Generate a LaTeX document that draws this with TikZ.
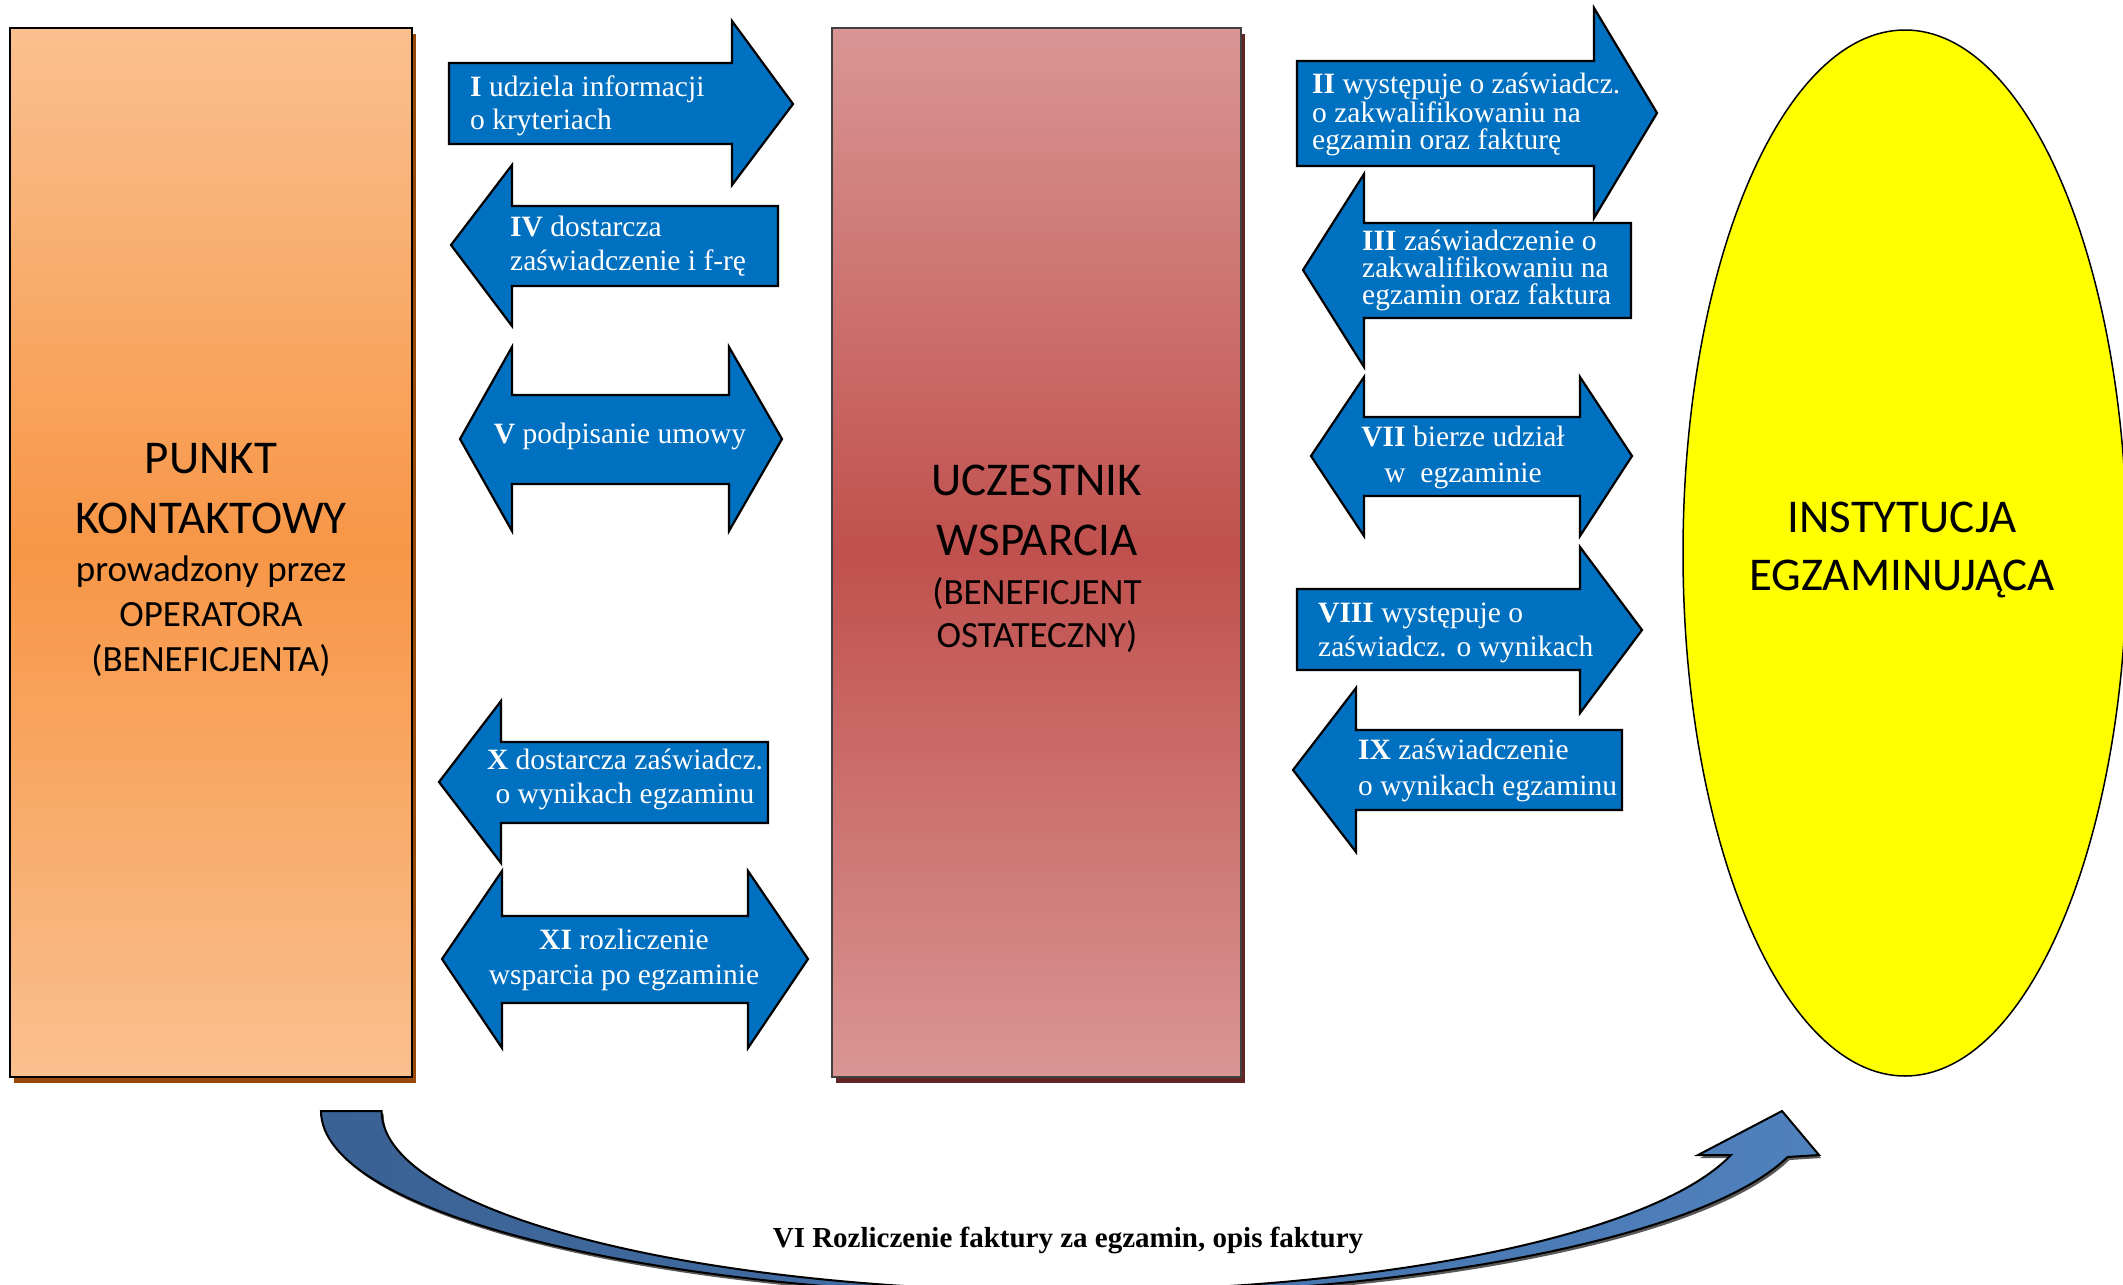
\documentclass[tikz,border=0pt]{standalone}
\usepackage{fontspec}
\setmainfont{Liberation Serif}
\newfontfamily\calib{Carlito}
\usetikzlibrary{shapes.geometric,shadows}
\definecolor{ablue}{HTML}{0070C0}
\definecolor{peachL}{HTML}{FAC08F}
\definecolor{orangeM}{HTML}{F79646}
\definecolor{shadowO}{HTML}{984807}
\definecolor{roseL}{HTML}{D99694}
\definecolor{redM}{HTML}{C0504D}
\definecolor{shadowR}{HTML}{632523}
\definecolor{curvL}{HTML}{3A6193}
\definecolor{curvR}{HTML}{4F81BD}
\definecolor{instY}{HTML}{FFFF00}
\begin{document}
\begin{tikzpicture}[x=1pt,y=-1pt,
  barrow/.style={fill=ablue, draw=black, line width=2.2pt, line join=miter},
  atext/.style={text=white, font=\fontsize{29.5}{34}\selectfont, inner sep=0pt, align=left, anchor=base west},
  atextc/.style={atext, align=center, anchor=base},
  atight/.style={atext, font=\fontsize{29.5}{27}\selectfont},
  bigtext/.style={font=\calib\fontsize{47}{59.5}\selectfont, align=center, inner sep=0pt, anchor=base},
  subtext/.style={font=\calib\fontsize{37}{45}\selectfont, align=center, inner sep=0pt, anchor=base},
  pkbox/.style={rectangle, draw=black, line width=1.5pt, minimum width=402pt, minimum height=1049pt,
    top color=peachL, bottom color=peachL, middle color=orangeM,
    drop shadow={shadow xshift=4pt, shadow yshift=-6pt, fill=shadowO, opacity=1}},
  ucbox/.style={rectangle, draw=black!75, line width=1.5pt, minimum width=409pt, minimum height=1049pt,
    top color=roseL, bottom color=roseL, middle color=redM,
    drop shadow={shadow xshift=4pt, shadow yshift=-6pt, fill=shadowR, opacity=1}},
  instell/.style={ellipse, draw=black, line width=1.5pt, fill=instY, minimum width=444pt, minimum height=1046pt, inner sep=0pt},
  curvarrow/.style={left color=curvL, right color=curvR, draw=black, line width=2pt, line join=miter},
  curvshadow/.style={fill=black!65}
]
\useasboundingbox (0,0) rectangle (2123,1285);
\clip (0,0) rectangle (2123,1285);

% main blocks
\node[pkbox] (pk) at (211,552.5) {};
\node[ucbox] (uc) at (1036.5,552.5) {};
\node[instell] (inst) at (1905,553) {};

% (anchor=base of a multi-line node = baseline of its last line)
\node[bigtext] (pkt) at (211,533) {PUNKT\\KONTAKTOWY};
\node[subtext] (pks) at (211,671) {prowadzony przez\\OPERATORA\\(BENEFICJENTA)};
\node[bigtext] (uct) at (1037,555) {UCZESTNIK\\WSPARCIA};
\node[subtext, font=\calib\fontsize{37}{43}\selectfont] (ucs) at (1037,647) {(BENEFICJENT\\OSTATECZNY)};
\node[bigtext, font=\calib\fontsize{47}{58}\selectfont] (instt) at (1902,590) {INSTYTUCJA\\EGZAMINUJĄCA};

% left column arrows
\draw[barrow] (449,63) -- (732,63) -- (732,21) -- (793,104) -- (732,185) -- (732,144) -- (449,144) -- cycle;
\node[atext, font=\fontsize{29.5}{33}\selectfont] (tI) at (470,129) {\textbf{I} udziela informacji\\o kryteriach};

\draw[barrow] (451,245) -- (512,165) -- (512,206) -- (778,206) -- (778,286) -- (512,286) -- (512,326) -- cycle;
\node[atext] (tIV) at (510,270) {\textbf{IV} dostarcza\\zaświadczenie i f-rę};

\draw[barrow] (460,439) -- (512,347) -- (512,395) -- (729,395) -- (729,347) -- (782,439) -- (729,531) -- (729,484) -- (512,484) -- (512,531) -- cycle;
\node[atextc] (tV) at (620,443) {\textbf{V} podpisanie umowy};

\draw[barrow] (439,782) -- (501,701) -- (501,742) -- (768,742) -- (768,823) -- (501,823) -- (501,863) -- cycle;
\node[atextc] (tX) at (625,803) {\textbf{X} dostarcza zaświadcz.\\o wynikach egzaminu};

\draw[barrow] (442,959) -- (502,871) -- (502,916) -- (748,916) -- (748,871) -- (808,959) -- (748,1048) -- (748,1003) -- (502,1003) -- (502,1048) -- cycle;
\node[atextc, font=\fontsize{29.5}{35}\selectfont] (tXI) at (624,984) {\textbf{XI} rozliczenie\\wsparcia po egzaminie};

% right column arrows
\draw[barrow] (1297,61) -- (1594,61) -- (1594,8) -- (1657,113) -- (1594,218) -- (1594,166) -- (1297,166) -- cycle;
\node[atight] (tII) at (1312,149) {\textbf{II} występuje o zaświadcz.\\o zakwalifikowaniu na\\egzamin oraz fakturę};

\draw[barrow] (1303,270) -- (1364,174) -- (1364,223) -- (1631,223) -- (1631,318) -- (1364,318) -- (1364,367) -- cycle;
\node[atight] (tIII) at (1362,304) {\textbf{III} zaświadczenie o\\zakwalifikowaniu na\\egzamin oraz faktura};

\draw[barrow] (1311,456) -- (1364,377) -- (1364,417) -- (1580,417) -- (1580,377) -- (1632,456) -- (1580,536) -- (1580,496) -- (1364,496) -- (1364,536) -- cycle;
\node[atextc, font=\fontsize{29.5}{36}\selectfont] (tVII) at (1463,482) {\textbf{VII} bierze udział\\w\ \ egzaminie};

\draw[barrow] (1297,589) -- (1580,589) -- (1580,547) -- (1642,630) -- (1580,713) -- (1580,670) -- (1297,670) -- cycle;
\node[atext] (tVIII) at (1318,656) {\textbf{VIII} występuje o\\zaświadcz. o wynikach};

\draw[barrow] (1293,770) -- (1356,688) -- (1356,730) -- (1622,730) -- (1622,810) -- (1356,810) -- (1356,852) -- cycle;
\node[atext, font=\fontsize{29.5}{36}\selectfont] (tIX) at (1358,795) {\textbf{IX} zaświadczenie\\o wynikach egzaminu};

% bottom curved arrow
\fill[curvshadow, shift={(2,3)}] (321,1111) arc[start angle=180, end angle=14.4, x radius=745, y radius=185] -- (1819,1155) -- (1782,1111) -- (1698,1155) -- (1731,1155) arc[start angle=14.1, end angle=180, x radius=685, y radius=180] -- cycle;
\path[curvarrow] (321,1111) arc[start angle=180, end angle=14.4, x radius=745, y radius=185] -- (1819,1155) -- (1782,1111) -- (1698,1155) -- (1731,1155) arc[start angle=14.1, end angle=180, x radius=685, y radius=180] -- cycle;
\node[font=\bfseries\fontsize{29}{34}\selectfont, inner sep=0pt, anchor=base] (tVI) at (1068,1247) {VI Rozliczenie faktury za egzamin, opis faktury};
\end{tikzpicture}
\end{document}
